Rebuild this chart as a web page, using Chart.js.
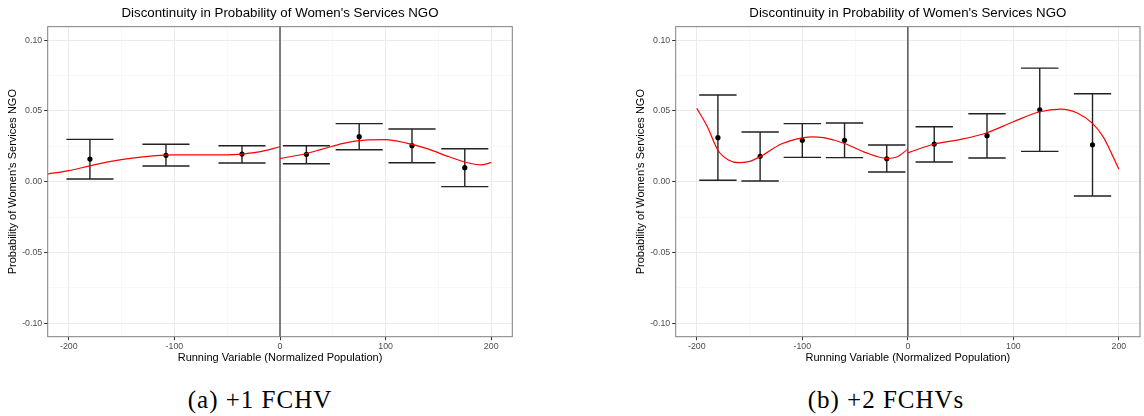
<!DOCTYPE html>
<html lang="en">
  <head>
    <meta charset="UTF-8" />
    <title>Discontinuity in Probability of Women's Services NGO</title>
    <script src="https://cdn.jsdelivr.net/npm/chart.js"></script>
    <style>
      body { margin: 0; background: #fff; width: 1144px; height: 416px; position: relative; overflow: hidden; }
      .panel { position: absolute; top: 0; }
      .caption { position: absolute; top: 387px; line-height: 25px; font-family: 'Liberation Serif', serif; font-size: 25px; letter-spacing: 1px; text-align: center; color: #000; }
    </style>
  </head>
  <body>
    <canvas id="chartA" class="panel" width="520" height="372" style="left:0"></canvas>
    <canvas id="chartB" class="panel" width="516" height="372" style="left:628px"></canvas>
    <div class="caption" style="left:0; width:520px">(a) +1 FCHV</div>
    <div class="caption" style="left:628px; width:516px">(b) +2 FCHVs</div>
    <script>
      // panel (a) +1 FCHV : binned means with 95% intervals
      const binsA = [-180, -108, -36, 25, 75, 125, 175];
      const meanA = [0.0160, 0.0186, 0.0195, 0.0193, 0.0318, 0.0254, 0.0099];
      const upperA = [0.0299, 0.0264, 0.0254, 0.0254, 0.0410, 0.0372, 0.0233];
      const lowerA = [0.0019, 0.0111, 0.0132, 0.0127, 0.0226, 0.0134, -0.0035];
      // fitted polynomial
      const fitLeftXA = [-220, -200, -180, -160, -140, -120, -100, -80, -60, -40, -20, 0];
      const fitLeftYA = [0.0054, 0.0078, 0.0112, 0.0144, 0.0167, 0.0182, 0.0189, 0.0190, 0.0189, 0.0193, 0.0210, 0.0247];
      const fitRightXA = [0, 20, 40, 60, 80, 100, 120, 140, 160, 180, 190, 200];
      const fitRightYA = [0.0165, 0.0190, 0.0230, 0.0271, 0.0294, 0.0297, 0.0272, 0.0232, 0.0176, 0.0130, 0.0119, 0.0134];

      // panel (b) +2 FCHVs
      const binsB = [-180, -140, -100, -60, -20, 25, 75, 125, 175];
      const meanB = [0.0311, 0.0179, 0.0292, 0.0292, 0.0162, 0.0266, 0.0325, 0.0508, 0.0261];
      const upperB = [0.0612, 0.0351, 0.0410, 0.0414, 0.0259, 0.0388, 0.0480, 0.0802, 0.0621];
      const lowerB = [0.0010, 0.0005, 0.0172, 0.0170, 0.0068, 0.0139, 0.0167, 0.0214, -0.0101];
      const fitLeftXB = [-200, -190, -180, -170, -160, -150, -140, -120, -100, -90, -80, -60, -40, -20, -10, 0];
      const fitLeftYB = [0.0518, 0.0388, 0.0222, 0.0153, 0.0134, 0.0143, 0.0177, 0.0266, 0.0310, 0.0317, 0.0311, 0.0270, 0.0205, 0.0165, 0.0176, 0.0230];
      const fitRightXB = [0, 25, 50, 75, 100, 125, 145, 160, 175, 185, 193, 200];
      const fitRightYB = [0.0203, 0.0266, 0.0299, 0.0346, 0.0423, 0.0494, 0.0513, 0.0487, 0.0412, 0.0318, 0.0200, 0.0088];

      const cutoff = 0;
      const xTicks = { min: -220, max: 220, step: 50, labelEvery: 100 };
      const yTicks = { min: -0.1095, max: 0.1095, step: 0.025, labelEvery: 0.05 };

      Chart.defaults.font.family = "'Liberation Sans', Arial, sans-serif";

      function isMajor(v, every) {
        return Math.abs(v / every - Math.round(v / every)) < 1e-6;
      }

      function toPoints(xs, ys) {
        return xs.map((x, i) => ({ x: x, y: ys[i] }));
      }

      function errorBarData(bins, lo, hi, cap) {
        const pts = [];
        bins.forEach((b, i) => {
          pts.push({ x: b - cap, y: hi[i] }, { x: b + cap, y: hi[i] }, { x: b, y: null });
          pts.push({ x: b, y: hi[i] }, { x: b, y: lo[i] }, { x: b, y: null });
          pts.push({ x: b - cap, y: lo[i] }, { x: b + cap, y: lo[i] }, { x: b, y: null });
        });
        return pts;
      }

      const panelFrame = {
        id: 'panelFrame',
        beforeDatasetsDraw(chart) {
          const { ctx, chartArea: a, scales: { x } } = chart;
          const px = x.getPixelForValue(cutoff);
          ctx.save();
          ctx.strokeStyle = '#555';
          ctx.lineWidth = 1.5;
          ctx.beginPath();
          ctx.moveTo(px, a.top);
          ctx.lineTo(px, a.bottom);
          ctx.stroke();
          ctx.restore();
        },
        afterDraw(chart) {
          const { ctx, chartArea: a } = chart;
          ctx.save();
          ctx.strokeStyle = '#7f7f7f';
          ctx.lineWidth = 1;
          ctx.strokeRect(a.left, a.top, a.right - a.left, a.bottom - a.top);
          ctx.restore();
        }
      };

      function makePanel(id, p) {
        new Chart(document.getElementById(id), {
          type: 'scatter',
          data: {
            datasets: [
              {
                data: toPoints(p.fitLeftX, p.fitLeftY),
                showLine: true, borderColor: '#ff0000', borderWidth: 1.2,
                pointRadius: 0, cubicInterpolationMode: 'monotone', order: 0
              },
              {
                data: toPoints(p.fitRightX, p.fitRightY),
                showLine: true, borderColor: '#ff0000', borderWidth: 1.2,
                pointRadius: 0, cubicInterpolationMode: 'monotone', order: 0
              },
              {
                data: toPoints(p.bins, p.mean),
                pointRadius: 2.6, pointBackgroundColor: '#000', pointBorderWidth: 0,
                order: 1
              },
              {
                data: errorBarData(p.bins, p.lower, p.upper, p.cap),
                showLine: true, spanGaps: false, borderColor: '#222', borderWidth: 1.4,
                pointRadius: 0, tension: 0, order: 2
              }
            ]
          },
          options: {
            responsive: false,
            animation: false,
            devicePixelRatio: 1,
            events: [],
            layout: { padding: { left: 0, right: p.padRight, top: 0, bottom: 0 } },
            plugins: {
              legend: { display: false },
              tooltip: { enabled: false },
              title: {
                display: true,
                fullSize: false,
                text: "Discontinuity in Probability of Women's Services NGO",
                color: '#000',
                font: { size: 13.3, weight: 'normal' },
                padding: { top: 5.3, bottom: 5.4 }
              }
            },
            scales: {
              x: {
                type: 'linear',
                min: xTicks.min, max: xTicks.max,
                border: { display: false },
                ticks: {
                  stepSize: xTicks.step, includeBounds: false, autoSkip: false, maxRotation: 0,
                  padding: 1, color: '#4d4d4d', font: { size: 8.8 },
                  callback: v => isMajor(v, xTicks.labelEvery) ? v : ''
                },
                grid: {
                  color: c => isMajor(c.tick.value, xTicks.labelEvery) ? '#ebebeb' : '#f4f4f4',
                  lineWidth: c => isMajor(c.tick.value, xTicks.labelEvery) ? 1 : 0.6,
                  tickLength: 3.5,
                  tickColor: c => isMajor(c.tick.value, xTicks.labelEvery) ? '#333' : 'rgba(0,0,0,0)',
                  tickWidth: 1
                },
                title: {
                  display: true, text: 'Running Variable (Normalized Population)',
                  color: '#000', font: { size: 11 }, padding: { top: 0, bottom: 7.1 }
                },
                afterFit: s => { s.height = 35.3; }
              },
              y: {
                type: 'linear',
                min: yTicks.min, max: yTicks.max,
                border: { display: false },
                ticks: {
                  stepSize: yTicks.step, includeBounds: false, autoSkip: false,
                  padding: 2, color: '#4d4d4d', font: { size: 8.8 },
                  callback: v => isMajor(v, yTicks.labelEvery) ? v.toFixed(2) : ''
                },
                grid: {
                  color: c => isMajor(c.tick.value, yTicks.labelEvery) ? '#ebebeb' : '#f4f4f4',
                  lineWidth: c => isMajor(c.tick.value, yTicks.labelEvery) ? 1 : 0.6,
                  tickLength: 3.5,
                  tickColor: c => isMajor(c.tick.value, yTicks.labelEvery) ? '#333' : 'rgba(0,0,0,0)',
                  tickWidth: 1
                },
                title: {
                  display: true, text: "Probability of Women's Services NGO",
                  color: '#000', font: { size: 11 }, padding: { top: 6.7, bottom: 0 }
                },
                afterFit: s => { s.width = 47.7; }
              }
            }
          },
          plugins: [panelFrame]
        });
      }

      makePanel('chartA', {
        bins: binsA, mean: meanA, upper: upperA, lower: lowerA, cap: 22.3,
        fitLeftX: fitLeftXA, fitLeftY: fitLeftYA, fitRightX: fitRightXA, fitRightY: fitRightYA,
        padRight: 7.7
      });
      makePanel('chartB', {
        bins: binsB, mean: meanB, upper: upperB, lower: lowerB, cap: 17.7,
        fitLeftX: fitLeftXB, fitLeftY: fitLeftYB, fitRightX: fitRightXB, fitRightY: fitRightYB,
        padRight: 1.8
      });
    </script>
  </body>
</html>
